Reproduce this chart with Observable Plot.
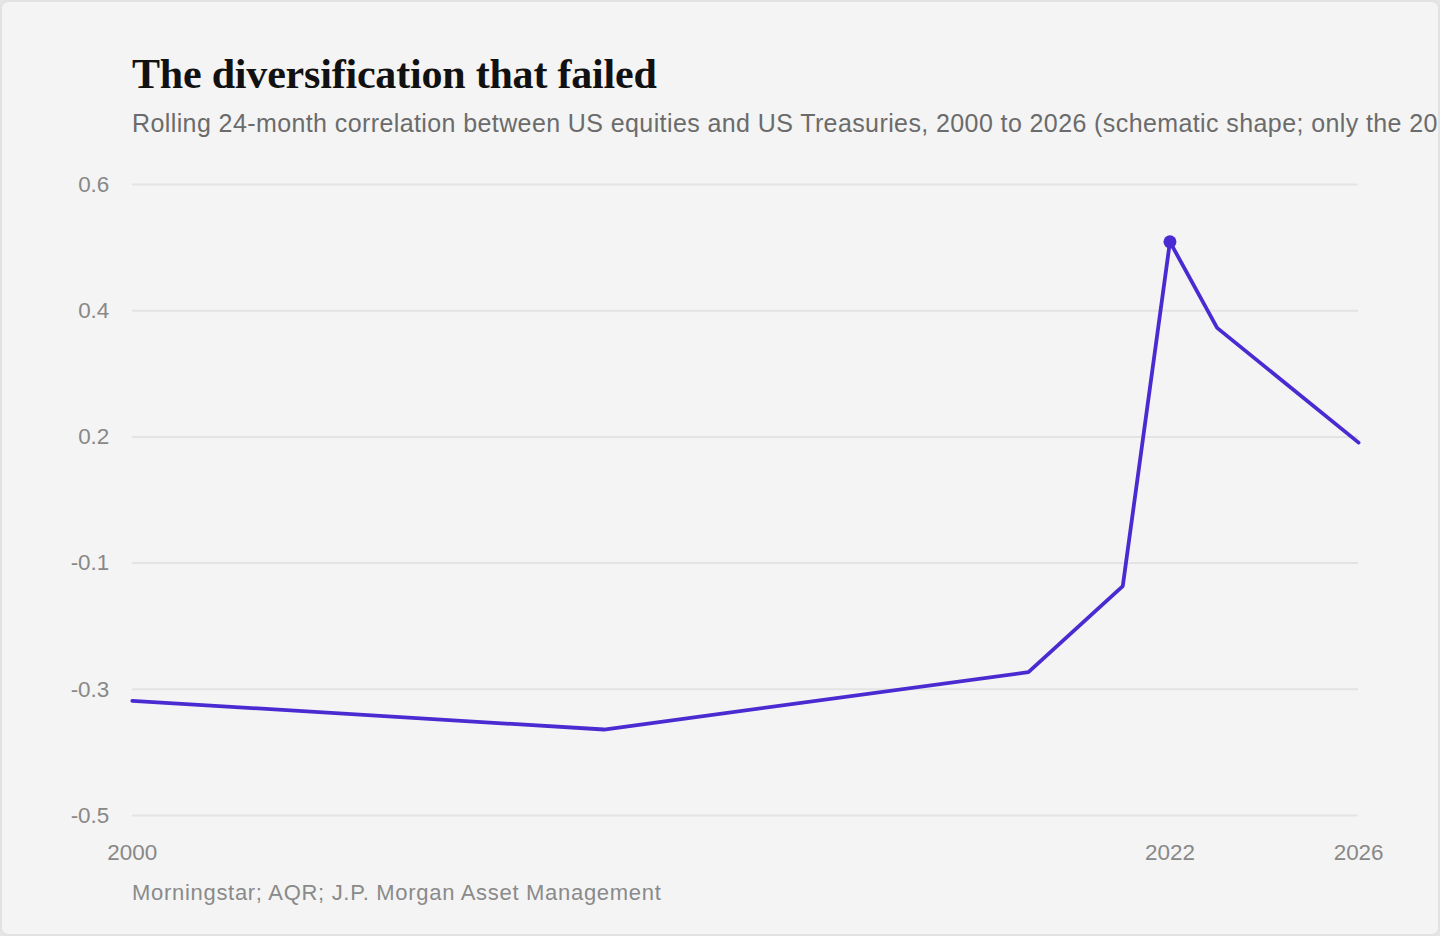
<!DOCTYPE html>
<html>
<head>
<meta charset="utf-8">
<script src="https://cdn.jsdelivr.net/npm/d3@7"></script>
<script src="https://cdn.jsdelivr.net/npm/@observablehq/plot@0.6"></script>
<style>
  html, body { margin: 0; padding: 0; background: #e6e6e6; }
  body { width: 1440px; height: 936px; overflow: hidden; position: relative; }
  #card {
    position: absolute; left: 0; top: 0; width: 1436px; height: 932px;
    background: #f4f4f4; border: 2px solid #e2e2e2; border-radius: 8px;
    overflow: hidden;
  }
  #title {
    position: absolute; left: 130px; top: 51px; margin: 0;
    font-family: "Liberation Serif", "DejaVu Serif", serif; font-weight: 700;
    font-size: 42px; letter-spacing: -0.2px; color: #111; white-space: nowrap; line-height: 1;
  }
  #subtitle {
    position: absolute; left: 130px; top: 109px; margin: 0;
    font-family: "Liberation Sans", Arial, sans-serif; font-size: 25px; letter-spacing: 0.4px;
    color: #6b6b6b; white-space: nowrap; line-height: 1;
  }
  #chart { position: absolute; left: -2px; top: 146px; }
  #caption {
    position: absolute; left: 130px; top: 880px; margin: 0;
    font-family: "Liberation Sans", Arial, sans-serif; font-size: 22px; letter-spacing: 0.7px;
    color: #8a8a8a; white-space: nowrap; line-height: 1;
  }
</style>
</head>
<body>
<div id="card">
  <h1 id="title">The diversification that failed</h1>
  <p id="subtitle">Rolling 24-month correlation between US equities and US Treasuries, 2000 to 2026 (schematic shape; only the 2022 peak is a reported value)</p>
  <div id="chart"></div>
  <p id="caption">Morningstar; AQR; J.P. Morgan Asset Management</p>
</div>
<script>
const years = [2000, 2010, 2019, 2021, 2022, 2023, 2026];
const correlation = [-0.30, -0.35, -0.25, -0.10, 0.50, 0.35, 0.15];
const peakYear = [2022];
const peakValue = [0.50];
const xTickValues = [2000, 2022, 2026];
const yTickValues = [-0.5, -0.28, -0.06, 0.16, 0.38, 0.6];
const yTickLabels = ["-0.5", "-0.3", "-0.1", "0.2", "0.4", "0.6"];

const series = years.map((y, i) => ({year: y, value: correlation[i]}));
const peak = peakYear.map((y, i) => ({year: y, value: peakValue[i]}));
const lineColor = "#4a2bd1";
const yFmt = d => yTickLabels[yTickValues.indexOf(d)];

const chart = Plot.plot({
  width: 1440,
  height: 720,
  marginLeft: 132,
  marginRight: 80,
  marginTop: 36,
  marginBottom: 52,
  style: {background: "transparent", fontFamily: "'Liberation Sans', Arial, sans-serif", fontSize: "22.5px", color: "#888"},
  x: {domain: [2000, 2026], label: null},
  y: {domain: [-0.5, 0.6], label: null},
  marks: [
    Plot.ruleY(yTickValues, {stroke: "#e3e3e3", strokeWidth: 2}),
    Plot.axisX({ticks: xTickValues, tickFormat: d => String(d), tickSize: 0, tickPadding: 29, fill: "#888", fontSize: 22.5, label: null}),
    Plot.axisY({ticks: yTickValues, tickFormat: yFmt, tickSize: 0, tickPadding: 23, fill: "#888", fontSize: 22.5, label: null}),
    Plot.line(series, {x: "year", y: "value", stroke: lineColor, strokeWidth: 3.8, strokeLinejoin: "miter", strokeLinecap: "round"}),
    Plot.dot(peak, {x: "year", y: "value", r: 6.5, fill: lineColor})
  ]
});
document.getElementById("chart").appendChild(chart);
</script>
</body>
</html>
